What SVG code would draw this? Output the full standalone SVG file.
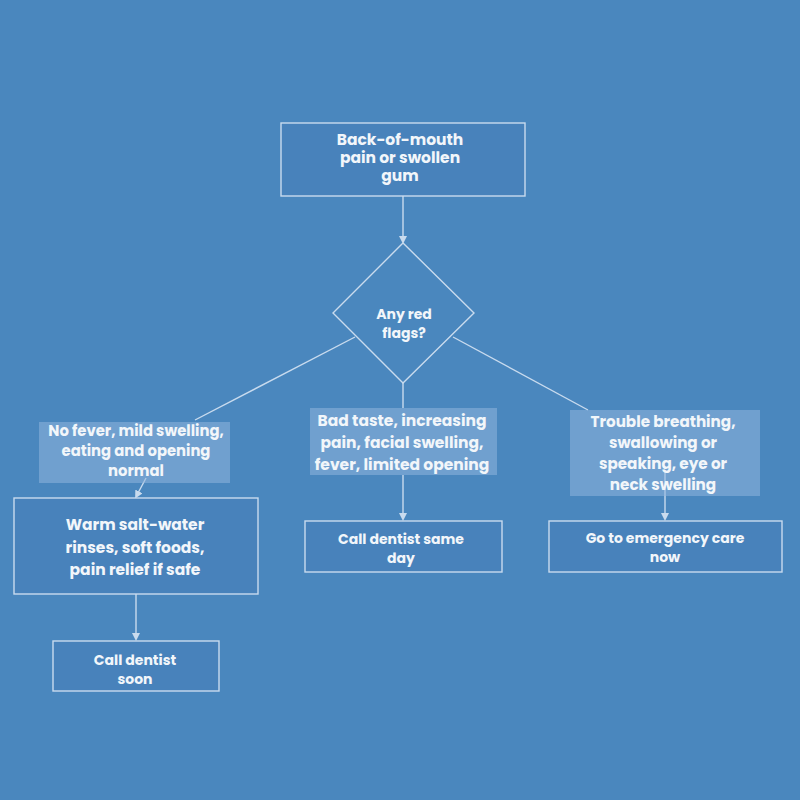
<svg xmlns="http://www.w3.org/2000/svg" width="800" height="800" viewBox="0 0 800 800">
<defs>
<marker id="ah" markerWidth="8" markerHeight="8" refX="4" refY="4" orient="auto" markerUnits="userSpaceOnUse">
<path d="M0,0 L8,4 L0,8 z" fill="#c9dbee"/>
</marker>
<style>
.bg{fill:#4a87be}
.box{fill:#4882bb;stroke:#c9dbee;stroke-width:1.4}
.dia{fill:#4a87be;stroke:#c9dbee;stroke-width:1.4}
.lbl{fill:#8fb5dc;fill-opacity:0.55}
.ln{stroke:#c9dbee;stroke-width:1.4;fill:none}
text{font-family:"Poppins","Inter","Open Sans",sans-serif;font-weight:700;fill:#f2f6fa;text-anchor:middle}
.t15{font-size:15.5px}
.t152{font-size:15.2px}
.t148{font-size:14.8px}
.t14{font-size:14px}
</style>
</defs>
<rect class="bg" x="0" y="0" width="800" height="800"/>
<g id="connectors">
<line class="ln" x1="403" y1="196" x2="403" y2="240" marker-end="url(#ah)"/>
<line class="ln" x1="355" y1="337" x2="195" y2="420"/>
<line class="ln" x1="453" y1="337" x2="588" y2="410"/>
<line class="ln" x1="403" y1="383" x2="403" y2="408"/>
<line class="ln" x1="146" y1="478" x2="137" y2="495" marker-end="url(#ah)"/>
<line class="ln" x1="136" y1="594" x2="136" y2="637" marker-end="url(#ah)"/>
<line class="ln" x1="403" y1="475" x2="403" y2="517" marker-end="url(#ah)"/>
<line class="ln" x1="665" y1="470" x2="665" y2="517" marker-end="url(#ah)"/>
</g>
<g id="start">
<rect class="box" x="281" y="123" width="244" height="73"/>
<text class="t15" x="400" y="145">Back-of-mouth</text>
<text class="t15" x="400" y="163">pain or swollen</text>
<text class="t15" x="400" y="181">gum</text>
</g>
<g id="decision">
<polygon class="dia" points="403,243 474,313 403,383 333,313"/>
<text class="t14" x="404" y="319">Any red</text>
<text class="t14" x="404" y="338">flags?</text>
</g>
<g id="label-mild">
<rect class="lbl" x="39" y="422" width="191" height="61"/>
<text class="t148" x="136" y="436">No fever, mild swelling,</text>
<text class="t148" x="136" y="456">eating and opening</text>
<text class="t148" x="136" y="476">normal</text>
</g>
<g id="label-moderate">
<rect class="lbl" x="310" y="408" width="187" height="67"/>
<text class="t15" x="402" y="426">Bad taste, increasing</text>
<text class="t15" x="402" y="448">pain, facial swelling,</text>
<text class="t15" x="402" y="470">fever, limited opening</text>
</g>
<g id="label-severe">
<rect class="lbl" x="570" y="410" width="190" height="86"/>
<text class="t152" x="663" y="427">Trouble breathing,</text>
<text class="t152" x="663" y="448">swallowing or</text>
<text class="t152" x="663" y="469">speaking, eye or</text>
<text class="t152" x="663" y="490">neck swelling</text>
</g>
<g id="home-care">
<rect class="box" x="14" y="498" width="244" height="96"/>
<text class="t15" x="135" y="530">Warm salt-water</text>
<text class="t15" x="135" y="553">rinses, soft foods,</text>
<text class="t15" x="135" y="575">pain relief if safe</text>
</g>
<g id="dentist-soon">
<rect class="box" x="53" y="641" width="166" height="50"/>
<text class="t14" x="135" y="665">Call dentist</text>
<text class="t14" x="135" y="684">soon</text>
</g>
<g id="dentist-same-day">
<rect class="box" x="305" y="521" width="197" height="51"/>
<text class="t14" x="401" y="544">Call dentist same</text>
<text class="t14" x="401" y="563">day</text>
</g>
<g id="emergency">
<rect class="box" x="549" y="521" width="233" height="51"/>
<text class="t14" x="665" y="543">Go to emergency care</text>
<text class="t14" x="665" y="562">now</text>
</g>
</svg>
